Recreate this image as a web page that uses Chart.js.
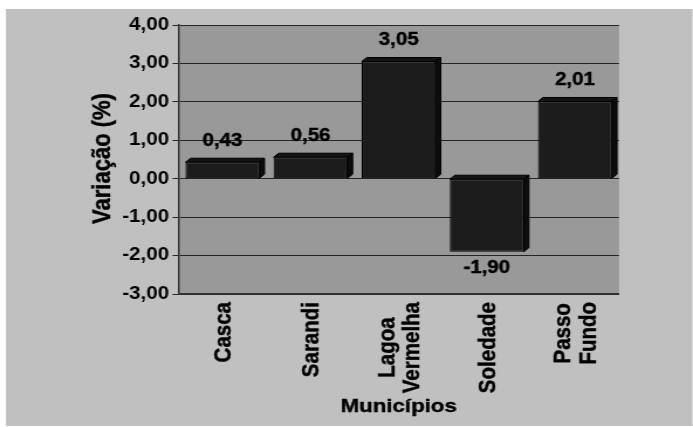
<!DOCTYPE html>
<html lang="pt">
<head>
<meta charset="utf-8">
<title>Variação (%) por município</title>
<script src="https://cdn.jsdelivr.net/npm/chart.js@4/dist/chart.umd.min.js"></script>
<style>
  html, body { margin: 0; padding: 0; background: #ffffff; overflow: hidden; }
  /* the chart is laid out in a narrower box and widened horizontally */
  #wrap { width: 592px; height: 427px; transform: scaleX(1.1706); transform-origin: 0 0; }
  canvas { display: block; }
</style>
</head>
<body>
<div id="wrap"><canvas id="chart" width="592" height="427"></canvas></div>
<script>
// Municípios e variação percentual
const municipios = ['Casca', 'Sarandi', ['Lagoa', 'Vermelha'], 'Soledade', ['Passo', 'Fundo']];
const variacao = [0.43, 0.56, 3.05, -1.90, 2.01];
const yMin = -3;
const yMax = 4;
const yStep = 1;
const yTitle = 'Variação (%)';
const xTitle = 'Municípios';

const FONT = "'Liberation Sans', Arial, Helvetica, sans-serif";
const fmt = v => v.toFixed(2).replace('.', ',');

// gray page panel and darker plot area
const backgroundPlugin = {
  id: 'panels',
  beforeDraw(chart) {
    const { ctx, chartArea: a } = chart;
    ctx.save();
    ctx.fillStyle = '#ffffff';
    ctx.fillRect(0, 0, chart.width, chart.height);
    ctx.fillStyle = '#c0c0c0';
    ctx.fillRect(5.1, 9, 586.4, 417);
    ctx.fillStyle = '#999999';
    ctx.fillRect(a.left, a.top, a.right - a.left, a.bottom - a.top);
    ctx.restore();
  }
};

// filled text with a thin outline so the bold faces read heavier
function heavyText(ctx, text, x, y) {
  ctx.fillText(text, x, y);
  ctx.strokeText(text, x, y);
}
function textStyle(ctx, size) {
  ctx.fillStyle = '#000000';
  ctx.strokeStyle = '#000000';
  ctx.lineWidth = 0.4;
  ctx.font = 'bold ' + size + 'px ' + FONT;
  ctx.textAlign = 'center';
  ctx.textBaseline = 'middle';
}

// extruded top and side faces for each bar, plus value labels
const DX = 4.3, DY = 4;
const barFacesPlugin = {
  id: 'barFaces',
  afterDatasetsDraw(chart) {
    const { ctx } = chart;
    const meta = chart.getDatasetMeta(0);
    const values = chart.data.datasets[0].data;
    ctx.save();
    ctx.lineWidth = 1;
    ctx.strokeStyle = '#000000';
    meta.data.forEach((bar) => {
      const p = bar.getProps(['x', 'y', 'base', 'width'], true);
      const l = p.x - p.width / 2, r = p.x + p.width / 2;
      const top = Math.min(p.y, p.base), bottom = Math.max(p.y, p.base);
      // top face
      ctx.beginPath();
      ctx.moveTo(l, top);
      ctx.lineTo(l + DX, top - DY);
      ctx.lineTo(r + DX, top - DY);
      ctx.lineTo(r, top);
      ctx.closePath();
      ctx.fillStyle = '#141414';
      ctx.fill();
      ctx.stroke();
      // side face
      ctx.beginPath();
      ctx.moveTo(r, top);
      ctx.lineTo(r + DX, top - DY);
      ctx.lineTo(r + DX, bottom - DY);
      ctx.lineTo(r, bottom);
      ctx.closePath();
      ctx.fillStyle = '#0c0c0c';
      ctx.fill();
      ctx.stroke();
    });
    // value labels
    textStyle(ctx, 17.5);
    meta.data.forEach((bar, i) => {
      const v = values[i];
      const p = bar.getProps(['x', 'y'], true);
      const y = v >= 0 ? p.y - 21 : p.y + 16;
      heavyText(ctx, fmt(v), p.x, y);
    });
    ctx.restore();
  }
};

// vertical category names under the axis (lines centred on each other) and axis titles
const axisTextPlugin = {
  id: 'axisText',
  afterDraw(chart) {
    const { ctx, chartArea: a } = chart;
    const xs = chart.scales.x;
    const top = xs.top + 8;
    const lineGap = 21.4;
    ctx.save();
    textStyle(ctx, 20.5);
    chart.data.labels.forEach((lab, i) => {
      const lines = Array.isArray(lab) ? lab : [lab];
      const maxW = Math.max(...lines.map(t => ctx.measureText(t).width));
      const cx = xs.getPixelForTick(i) + 1;
      const first = cx - (lines.length - 1) * lineGap / 2;
      lines.forEach((t, k) => {
        ctx.save();
        ctx.translate(first + k * lineGap, top + maxW / 2);
        ctx.rotate(-Math.PI / 2);
        heavyText(ctx, t, 0, 0);
        ctx.restore();
      });
    });
    // x axis title
    textStyle(ctx, 19);
    heavyText(ctx, xTitle, (a.left + a.right) / 2, 406.5);
    // y axis title
    textStyle(ctx, 22);
    ctx.save();
    ctx.translate(88, (a.top + a.bottom) / 2 - 1);
    ctx.rotate(-Math.PI / 2);
    heavyText(ctx, yTitle, 0, 0);
    ctx.restore();
    ctx.restore();
  }
};

new Chart(document.getElementById('chart'), {
  type: 'bar',
  data: {
    labels: municipios,
    datasets: [{
      data: variacao,
      backgroundColor: '#1c1c1c',
      borderColor: '#000000',
      borderWidth: 1,
      borderSkipped: false,
      barPercentage: 0.84,
      categoryPercentage: 1.0
    }]
  },
  options: {
    responsive: false,
    animation: false,
    events: [],
    layout: { padding: { top: 25, left: 74.8, right: 63.2, bottom: 9.7 } },
    plugins: { legend: { display: false }, tooltip: { enabled: false } },
    scales: {
      x: {
        grid: { display: false },
        border: { display: true, color: '#333333', width: 1.5 },
        ticks: { display: false },
        title: { display: false },
        afterFit(scale) { scale.height = 123.3; }
      },
      y: {
        min: yMin, max: yMax,
        grid: { color: '#262626', lineWidth: 1, drawTicks: true, tickLength: 5, tickColor: '#262626' },
        border: { display: true, color: '#333333', width: 1.5 },
        ticks: {
          stepSize: yStep, padding: 3, color: '#000000',
          font: { family: FONT, size: 17.5, weight: 'bold' },
          callback: v => fmt(v)
        },
        title: { display: false },
        afterFit(scale) { scale.width = 77.6; }
      }
    }
  },
  plugins: [backgroundPlugin, barFacesPlugin, axisTextPlugin]
});
</script>
</body>
</html>
